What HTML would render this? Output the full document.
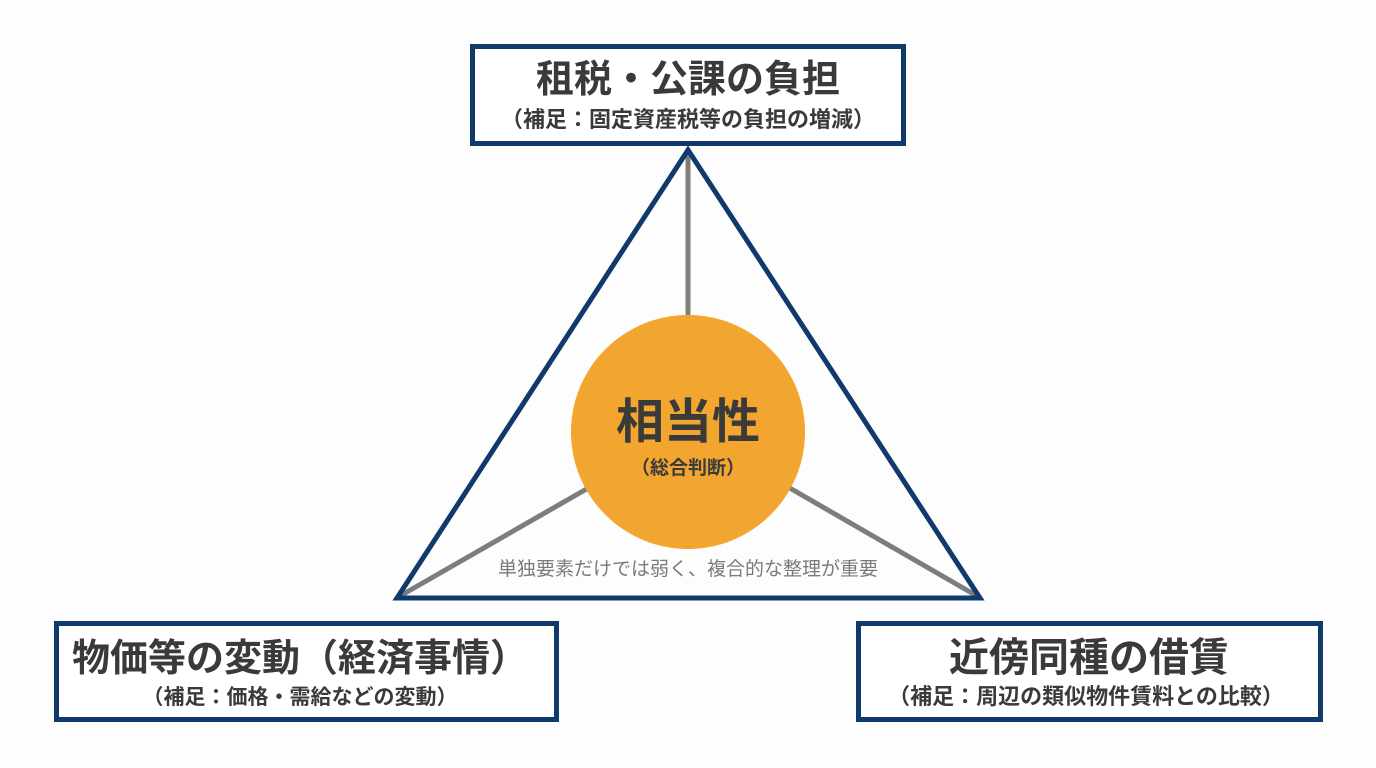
<!DOCTYPE html>
<html><head><meta charset="utf-8"><style>
html,body{margin:0;padding:0;background:#fdfdfd;}
svg{display:block;}
text{font-family:"Liberation Sans","Noto Sans CJK JP",sans-serif;font-weight:bold;fill:#3a3a3a;}
</style></head><body>
<svg width="1376" height="768" viewBox="0 0 1376 768">
<rect width="1376" height="768" fill="#fdfdfd"/>
<line x1="688" y1="150" x2="688" y2="320" stroke="#7d7d7d" stroke-width="5"/>
<line x1="400" y1="596" x2="590" y2="487" stroke="#7d7d7d" stroke-width="5"/>
<line x1="977" y1="596" x2="788" y2="487" stroke="#7d7d7d" stroke-width="5"/>
<polygon points="688,150 397,598 980,598" fill="none" stroke="#103a6c" stroke-width="5"/>
<circle cx="688" cy="432" r="117" fill="#f2a630"/>
<text x="688" y="438" text-anchor="middle" font-size="48">相当性</text>
<text x="688" y="474" text-anchor="middle" font-size="19">（総合判断）</text>
<text x="688" y="575" text-anchor="middle" font-size="19" style="font-weight:normal;fill:#7a7a7a">単独要素だけでは弱く、複合的な整理が重要</text>
<rect x="472.5" y="46.5" width="431" height="97" fill="#fff" stroke="#103a6c" stroke-width="5"/>
<text x="688" y="92" text-anchor="middle" font-size="38">租税・公課の負担</text>
<text x="688" y="127" text-anchor="middle" font-size="22">（補足：固定資産税等の負担の増減）</text>
<rect x="56.5" y="623.5" width="500" height="96" fill="#fff" stroke="#103a6c" stroke-width="5"/>
<text x="300" y="671" text-anchor="middle" font-size="38">物価等の変動（経済事情）</text>
<text x="300" y="704" text-anchor="middle" font-size="21">（補足：価格・需給などの変動）</text>
<rect x="858.5" y="623.5" width="462" height="96" fill="#fff" stroke="#103a6c" stroke-width="5"/>
<text x="1089" y="671" text-anchor="middle" font-size="40">近傍同種の借賃</text>
<text x="1086" y="704" text-anchor="middle" font-size="22">（補足：周辺の類似物件賃料との比較）</text>
</svg>
</body></html>
